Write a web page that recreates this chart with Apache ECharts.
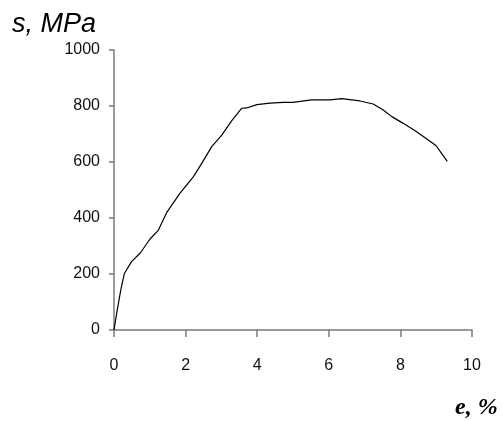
<!DOCTYPE html>
<html>
<head>
<meta charset="utf-8">
<script src="https://cdn.jsdelivr.net/npm/echarts@6/dist/echarts.min.js"></script>
<style>
  html, body { margin: 0; padding: 0; background: #fff; }
  #chart { width: 502px; height: 421px; }
</style>
</head>
<body>
<div id="chart"></div>
<script>
// strain, %
var strain = [0, 0.09, 0.19, 0.29, 0.49, 0.74, 1.0, 1.24, 1.47, 1.84, 2.22, 2.45, 2.73, 3.01, 3.29, 3.57, 3.71,
              3.99, 4.36, 4.73, 5.0, 5.52, 6.03, 6.36, 6.87, 7.24, 7.52, 7.76, 8.08, 8.41, 8.74, 9.0, 9.15, 9.31];
// stress, MPa
var stress = [0, 71, 143, 202, 244, 276, 324, 357, 419, 488, 548, 595, 655, 696, 748, 792, 793,
              805, 810, 813, 813, 822, 822, 826, 818, 807, 786, 762, 738, 712, 682, 658, 631, 602];
var xTicks = [0, 10, 2];     // min, max, step
var yTicks = [0, 1000, 200];

var points = strain.map(function (x, i) { return [x, stress[i]]; });
var axisGray = '#7a7a7a';
var tickFont = 'Liberation Sans';

var myChart = echarts.init(document.getElementById('chart'));
var option = {
    animation: false,
    title: [
        {
            text: 's, MPa',
            left: 12,
            top: 11,
            padding: 0,
            textStyle: {
                fontFamily: 'Liberation Sans',
                fontStyle: 'italic',
                fontWeight: 'normal',
                fontSize: 27,
                color: '#000'
            }
        },
        {
            text: 'e, %',
            left: 455,
            top: 396,
            padding: 0,
            textStyle: {
                fontFamily: 'Liberation Serif',
                fontStyle: 'italic',
                fontWeight: 'bold',
                fontSize: 24,
                color: '#000'
            }
        }
    ],
    grid: { left: 114, right: 30, top: 50, bottom: 91 },
    xAxis: {
        type: 'value',
        min: xTicks[0],
        max: xTicks[1],
        interval: xTicks[2],
        splitLine: { show: false },
        axisLine: { lineStyle: { color: axisGray, width: 1.5 } },
        axisTick: { length: 7, lineStyle: { color: axisGray, width: 1.5 } },
        axisLabel: { margin: 28, color: '#111', fontFamily: tickFont, fontSize: 16 }
    },
    yAxis: {
        type: 'value',
        min: yTicks[0],
        max: yTicks[1],
        interval: yTicks[2],
        splitLine: { show: false },
        axisLine: { show: true, lineStyle: { color: axisGray, width: 1.5 } },
        axisTick: { show: true, length: 5, lineStyle: { color: axisGray, width: 1.5 } },
        axisLabel: {
            margin: 14, color: '#111', fontFamily: tickFont, fontSize: 16,
            formatter: function (v) { return String(v); }
        }
    },
    series: [
        {
            type: 'line',
            data: points,
            showSymbol: false,
            lineStyle: { color: '#000', width: 1.2 }
        }
    ]
};
myChart.setOption(option);
</script>
</body>
</html>
